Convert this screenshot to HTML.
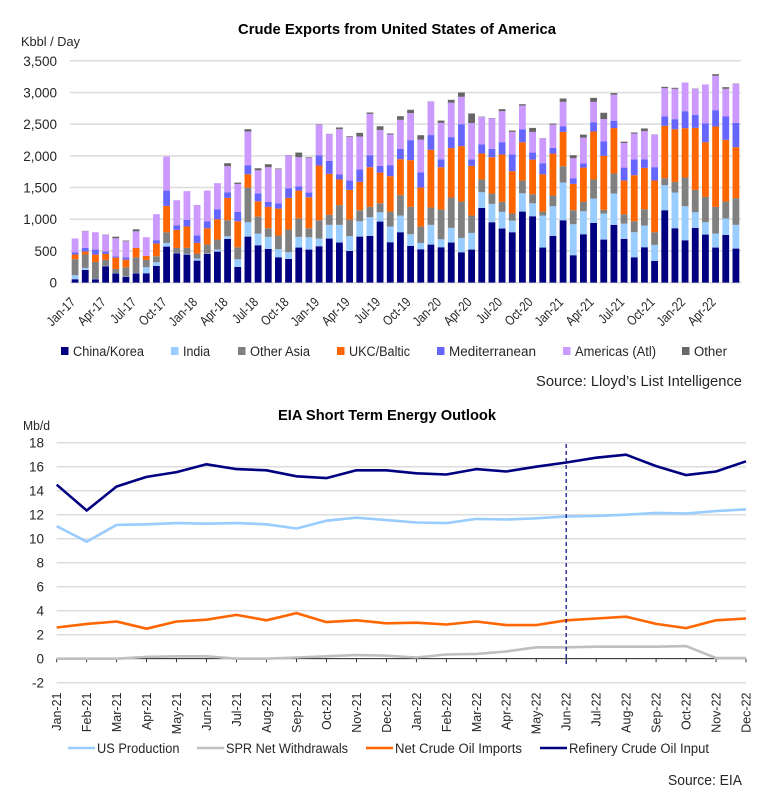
<!DOCTYPE html>
<html lang="en">
<head>
<meta charset="utf-8">
<title>Crude Exports and EIA Outlook</title>
<style>
html,body{margin:0;padding:0;background:#fff;width:776px;height:793px;overflow:hidden}
svg{display:block;font-family:"Liberation Sans",sans-serif}
text{fill:#262626}
</style>
</head>
<body>
<svg id="page" width="776" height="793" viewBox="0 0 776 793" xmlns="http://www.w3.org/2000/svg">
  <text x="238" y="34" font-size="15" font-weight="bold" fill="#000" style="fill:#000" textLength="318" lengthAdjust="spacingAndGlyphs">Crude Exports from United States of America</text>
  <text x="21" y="46" font-size="12.5" textLength="59" lengthAdjust="spacingAndGlyphs">Kbbl / Day</text>
  <g id="top-grid"></g>
  <g id="top-bars"></g>
  <g id="top-ylabels"></g>
  <g id="top-xlabels"></g>
  <g id="top-legend"></g>
  <text x="536" y="386" font-size="14.5" textLength="206" lengthAdjust="spacingAndGlyphs">Source: Lloyd’s List Intelligence</text>

  <text x="278" y="420" font-size="15" font-weight="bold" style="fill:#000" textLength="218" lengthAdjust="spacingAndGlyphs">EIA Short Term Energy Outlook</text>
  <text x="23" y="430" font-size="12.5" textLength="27" lengthAdjust="spacingAndGlyphs">Mb/d</text>
  <g id="low-grid"></g>
  <g id="low-axis"></g>
  <g id="low-lines"></g>
  <line id="forecast-line" stroke="#000080" stroke-width="1.2" stroke-dasharray="4 3"></line>
  <g id="low-ylabels"></g>
  <g id="low-xlabels"></g>
  <g id="low-legend"></g>
  <text x="668" y="785" font-size="14.5" textLength="74" lengthAdjust="spacingAndGlyphs">Source: EIA</text>
</svg>
<script>
var NS = 'http://www.w3.org/2000/svg';

// ---- Crude exports (kbbl/day), Jan-17 .. Jun-22 ----
var exportTickLabels = ['Jan-17','Apr-17','Jul-17','Oct-17','Jan-18','Apr-18','Jul-18','Oct-18','Jan-19','Apr-19','Jul-19','Oct-19','Jan-20','Apr-20','Jul-20','Oct-20','Jan-21','Apr-21','Jul-21','Oct-21','Jan-22','Apr-22'];
var exportYTicks = [0,500,1000,1500,2000,2500,3000,3500];
var chinaKorea = [53,200,53,258,147,89,147,147,263,568,463,442,347,453,489,689,247,726,589,532,400,374,553,521,574,695,632,500,726,737,963,637,795,579,526,600,558,632,479,521,1179,953,853,795,1121,1047,553,737,984,432,763,942,679,911,689,400,558,342,1142,858,668,863,758,553,753,537];
var india = [63,32,5,5,5,5,5,95,58,58,5,11,32,5,32,42,121,226,184,189,126,105,168,195,121,216,279,232,242,295,147,247,263,184,100,311,126,232,226,263,247,289,263,184,289,205,505,468,595,489,363,384,411,495,242,395,342,253,395,563,537,247,195,221,258,374];
var otherAsia = [253,211,268,95,63,147,247,116,95,168,79,95,79,142,158,253,189,547,268,137,216,358,289,142,289,158,311,263,174,163,142,237,321,432,258,274,468,479,574,274,200,163,158,111,200,142,63,168,258,221,147,300,58,316,147,174,258,200,111,168,453,353,400,421,268,421];
var ukcBaltic = [74,47,116,95,179,121,147,63,200,416,284,337,168,258,321,353,411,211,242,337,426,500,442,489,863,647,405,468,447,626,484,558,568,737,616,911,668,779,874,784,411,574,747,668,605,547,589,663,542,416,542,758,853,716,532,726,653,816,826,832,779,979,863,1268,974,805];
var mediterranean = [32,58,79,37,21,37,5,0,53,242,74,105,121,111,158,89,147,142,126,79,84,153,68,74,163,205,79,147,195,189,105,174,163,316,237,232,126,174,347,100,142,132,195,263,205,111,174,89,84,89,68,147,226,116,205,247,132,211,147,158,268,205,295,258,368,384];
var americasAtl = [221,263,274,263,284,253,258,295,411,537,395,453,479,484,411,411,442,532,363,547,537,516,458,547,484,421,716,689,521,653,568,484,458,426,521,526,574,542,432,574,437,479,489,358,374,326,389,368,389,316,405,321,353,411,389,411,447,511,447,479,453,411,616,542,437,616];
var otherDest = [0,5,0,5,26,11,32,0,0,0,0,0,0,0,0,47,21,37,32,47,11,5,74,11,5,5,26,11,58,21,58,16,58,53,68,5,37,47,68,153,5,5,32,21,21,63,5,16,53,47,47,63,100,26,21,16,42,5,21,16,0,5,0,26,26,5];
var exportSeriesNames = ['China/Korea','India','Other Asia','UKC/Baltic','Mediterranean','Americas (Atl)','Other'];
var exportSeriesValues = [chinaKorea,india,otherAsia,ukcBaltic,mediterranean,americasAtl,otherDest];
var exportColors = ['#000080','#99ccff','#808080','#ff6600','#6666ff','#cc99ff','#666666'];

// ---- EIA STEO (Mb/d), Jan-21 .. Dec-22 ----
var eiaMonths = ['Jan-21','Feb-21','Mar-21','Apr-21','May-21','Jun-21','Jul-21','Aug-21','Sep-21','Oct-21','Nov-21','Dec-21','Jan-22','Feb-22','Mar-22','Apr-22','May-22','Jun-22','Jul-22','Aug-22','Sep-22','Oct-22','Nov-22','Dec-22'];
var eiaYTicks = [-2,0,2,4,6,8,10,12,14,16,18];
var usProduction = [11.05,9.75,11.15,11.2,11.3,11.25,11.3,11.2,10.85,11.5,11.75,11.55,11.35,11.3,11.65,11.6,11.7,11.85,11.9,12,12.15,12.1,12.3,12.45];
var sprWithdrawals = [0,0,0,0.15,0.2,0.2,0,0,0.1,0.2,0.3,0.25,0.1,0.35,0.4,0.6,0.95,0.95,1,1,1,1.05,0.05,0.05];
var netImports = [2.6,2.9,3.1,2.5,3.1,3.25,3.65,3.2,3.8,3.05,3.2,2.95,3,2.85,3.1,2.8,2.8,3.2,3.35,3.5,2.9,2.55,3.2,3.35];
var refineryInput = [14.5,12.35,14.35,15.15,15.55,16.2,15.8,15.7,15.2,15.05,15.7,15.7,15.45,15.35,15.8,15.6,16,16.35,16.75,17,16.05,15.3,15.6,16.45];
var eiaSeriesNames = ['US Production','SPR Net Withdrawals','Net Crude Oil Imports','Refinery Crude Oil Input'];
var eiaSeriesValues = [usProduction,sprWithdrawals,netImports,refineryInput];
var eiaColors = ['#99ccff','#bfbfbf','#ff6600','#000080'];
var forecastStart = 'Jun-22';

function slug(s){ return s.toLowerCase().replace(/[^a-z0-9]+/g,'-').replace(/^-|-$/g,''); }
function make(tag, attrs, parent){
  var el = document.createElementNS(NS, tag);
  for (var k in attrs) el.setAttribute(k, attrs[k]);
  parent.appendChild(el);
  return el;
}
function byId(id){ return document.getElementById(id); }

// Top chart axes
var topLeft = 70, topRight = 741, topBase = 282.6, topPx = 221.8 / 3500;
function xTop(i){ return topLeft + (topRight - topLeft) * (i + 0.5) / chinaKorea.length; }
function yTop(v){ return topBase - v * topPx; }
var topBarW = 6.8;

exportYTicks.forEach(function(t){
  var gl = make('line',{x1:topLeft,x2:topRight,y1:yTop(t),y2:yTop(t),stroke:'#dcdcdc','stroke-width':1.5},byId('top-grid'));
  
  
  var lb = make('text',{x:57,y:yTop(t)+5,'text-anchor':'end','font-size':13.5},byId('top-ylabels'));
  
  
  lb.textContent = t.toLocaleString('en-US');
});

chinaKorea.forEach(function(_, i){
  var cum = 0;
  exportSeriesValues.forEach(function(series, s){
    var v = series[i];
    var r = make('rect',{x:xTop(i)-topBarW/2,y:yTop(cum+v),width:topBarW,height:Math.max(0,yTop(cum)-yTop(cum+v)),fill:exportColors[s]},byId('top-bars'));
    
    
    cum += v;
  });
});

exportTickLabels.forEach(function(t, k){
  var x = xTop(k*3) + 1, y = 303;
  var lb = make('text',{x:0,y:0,'text-anchor':'end','font-size':13.5,transform:'translate('+x+' '+y+') rotate(-45) scale(0.82 1)'},byId('top-xlabels'));
  
  
  lb.textContent = t;
});

var topLegendSwatchX = [61,171,238,337,437,563,682];
var topLegendTextW = [71,27,60,61,87,81,33];
exportSeriesNames.forEach(function(n, s){
  var sx = topLegendSwatchX[s];
  var g = make('g',{},byId('top-legend'));
  
  
  make('rect',{x:sx,y:347,width:7.5,height:8,fill:exportColors[s]},g);
  var tx = make('text',{x:sx+12,y:356,'font-size':13.5,textLength:topLegendTextW[s],lengthAdjust:'spacingAndGlyphs'},g);
  tx.textContent = n;
});

// Lower chart axes
var lowLeft = 56.7, lowRight = 746, lowZero = 658.7, lowPx = 12;
function xLow(i){ return lowLeft + (lowRight - lowLeft) * i / (eiaMonths.length - 1); }
function yLow(v){ return lowZero - v * lowPx; }

eiaYTicks.forEach(function(t){
  if (t !== 0) {
    var gl = make('line',{x1:lowLeft,x2:lowRight,y1:yLow(t),y2:yLow(t),stroke:'#dcdcdc','stroke-width':1.5},byId('low-grid'));
    
    
  }
  var lb = make('text',{x:44,y:yLow(t)+5,'text-anchor':'end','font-size':13.5},byId('low-ylabels'));
  
  
  lb.textContent = t;
});

make('line',{x1:lowLeft,x2:lowRight,y1:lowZero,y2:lowZero,stroke:'#000','stroke-width':0.8},byId('low-axis'));
eiaMonths.forEach(function(m, i){
  var x = xLow(i);
  make('line',{x1:x,x2:x,y1:lowZero,y2:lowZero+3.5,stroke:'#000','stroke-width':0.8},byId('low-axis'));
  var lb = make('text',{x:x+4.5,y:692.5,'text-anchor':'end','font-size':12.5,transform:'rotate(-90 '+(x+4.5)+' 692.5)'},byId('low-xlabels'));
  
  
  lb.textContent = m;
});

eiaSeriesValues.forEach(function(series, s){
  var pts = series.map(function(v, i){ return xLow(i).toFixed(1)+','+yLow(v).toFixed(1); }).join(' ');
  var p = make('polyline',{points:pts,fill:'none',stroke:eiaColors[s],'stroke-width':2.6,'stroke-linejoin':'round'},byId('low-lines'));
  
  
});

var fx = xLow(eiaMonths.indexOf(forecastStart));
var fl = byId('forecast-line');
fl.setAttribute('x1',fx); fl.setAttribute('x2',fx);
fl.setAttribute('y1',444); fl.setAttribute('y2',664);

var lowLegendX = [68,197,366,540];
var lowLegendTextW = [82.5,122,127,140];
eiaSeriesNames.forEach(function(n, s){
  var lx = lowLegendX[s];
  var g = make('g',{},byId('low-legend'));
  
  
  make('line',{x1:lx,x2:lx+27,y1:748,y2:748,stroke:eiaColors[s],'stroke-width':2.6},g);
  var tx = make('text',{x:lx+29,y:753,'font-size':13.5,textLength:lowLegendTextW[s],lengthAdjust:'spacingAndGlyphs'},g);
  tx.textContent = n;
});
</script>
</body>
</html>
